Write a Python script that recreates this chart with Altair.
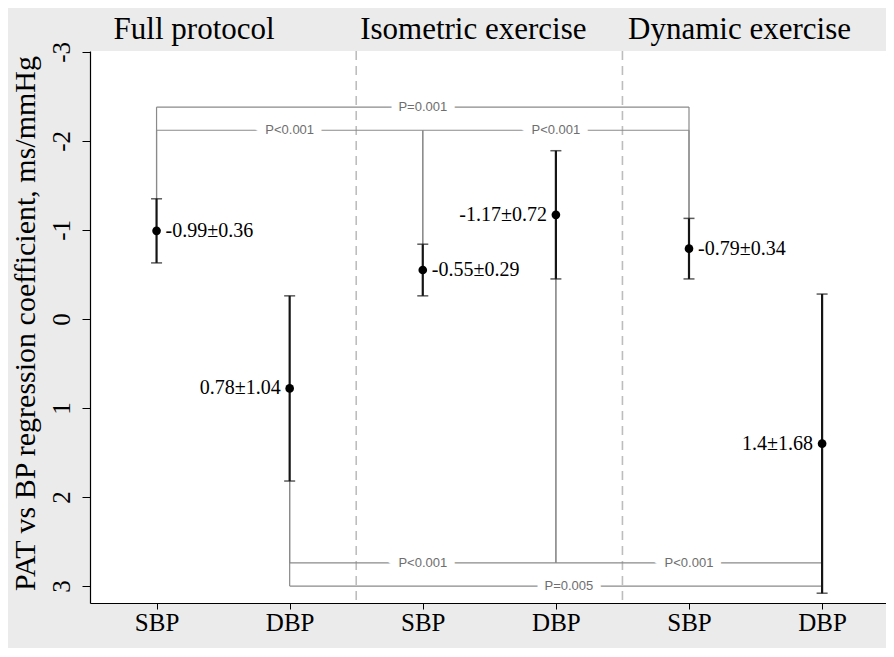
import altair as alt
import pandas as pd

# ---- data ----
groups = ["Full protocol", "Isometric exercise", "Dynamic exercise"]
measures = ["SBP", "DBP", "SBP", "DBP", "SBP", "DBP"]
positions = [1, 2, 3, 4, 5, 6]
coef = [-0.99, 0.78, -0.55, -1.17, -0.79, 1.4]
ci = [0.36, 1.04, 0.29, 0.72, 0.34, 1.68]
label_side = ["right", "left", "right", "left", "right", "left"]

group_pos = [1.5, 3.5, 5.5]
separators = [2.5, 4.5]

br_labels = ["P=0.001", "P<0.001", "P<0.001", "P<0.001", "P<0.001", "P=0.005"]
br_from = [1, 1, 3, 2, 4, 2]
br_to = [5, 3, 5, 4, 6, 6]
br_level = [-2.38, -2.12, -2.12, 2.74, 2.74, 3.0]

y_ticks = [-3, -2, -1, 0, 1, 2, 3]
y_title = "PAT vs BP regression coefficient, ms/mmHg"

SERIF = "Liberation Serif"
SANS = "Liberation Sans"

# ---- tables ----
pts = pd.DataFrame({
    "x": positions,
    "y": coef,
    "lo": [c - h for c, h in zip(coef, ci)],
    "hi": [c + h for c, h in zip(coef, ci)],
    "label": [f"{c:g}\u00b1{h:g}" for c, h in zip(coef, ci)],
    "side": label_side,
})

hz = pd.DataFrame({"x": br_from, "x2": br_to, "y": br_level})
vrows = []
for a, b, lev in zip(br_from, br_to, br_level):
    for p in (a, b):
        i = positions.index(p)
        end = coef[i] - ci[i] if lev < 0 else coef[i] + ci[i]
        vrows.append({"x": p, "y": lev, "y2": end})
vt = pd.DataFrame(vrows)
blab = pd.DataFrame({
    "x": [(a + b) / 2 for a, b in zip(br_from, br_to)],
    "y": br_level,
    "label": br_labels,
    "nudge": [0, 0, 0, 0, 0, 1],
})
seps = pd.DataFrame({"x": separators})
heads = pd.DataFrame({"x": group_pos, "label": groups})

label_expr = "[" + ",".join(["''"] + [f"'{m}'" for m in measures]) + "][datum.value]"

xscale = alt.Scale(domain=[0.5, 6.48], nice=False, zero=False)
yscale = alt.Scale(domain=[-3.01, 3.19], reverse=True, nice=False, zero=False)

xaxis = alt.Axis(values=positions, labelExpr=label_expr, title=None, grid=False,
                 domainColor="black", domainWidth=1.2, tickColor="black", tickSize=6,
                 labelFont=SERIF, labelFontSize=25, labelColor="black", labelPadding=1)
yaxis = alt.Axis(values=y_ticks, labelExpr="'' + datum.value", title=y_title, grid=False,
                 domainColor="black", domainWidth=1.2, tickColor="black", tickSize=8,
                 labelFont=SERIF, labelFontSize=25, labelColor="black", labelAngle=270,
                 labelAlign="center", labelBaseline="bottom", labelPadding=8,
                 titleFont=SERIF, titleFontSize=30, titleFontWeight="normal", titleColor="black",
                 titleAngle=270, titleX=-65, titleY=272, titleAlign="center", titleBaseline="middle")


def X(f):
    return alt.X(f"{f}:Q", scale=xscale, axis=xaxis)


def Y(f):
    return alt.Y(f"{f}:Q", scale=yscale, axis=yaxis)


sep_layer = alt.Chart(seps).mark_rule(color="#bdbdbd", strokeWidth=1.6, strokeDash=[9, 6]).encode(x=X("x"))

hz_layer = alt.Chart(hz).mark_rule(color="#8a8a8a", strokeWidth=1.2).encode(
    x=X("x"), x2="x2:Q", y=Y("y"))
vt_layer = alt.Chart(vt).mark_rule(color="#8a8a8a", strokeWidth=1.2).encode(
    x=X("x"), y=Y("y"), y2="y2:Q")

halo0 = alt.Chart(blab).transform_filter("datum.nudge == 0").mark_text(
    font=SANS, fontSize=13, color="white", stroke="white", strokeWidth=16, baseline="middle"
).encode(x=X("x"), y=Y("y"), text="label:N")
txt0 = alt.Chart(blab).transform_filter("datum.nudge == 0").mark_text(
    font=SANS, fontSize=13, color="#6e6e6e", baseline="middle"
).encode(x=X("x"), y=Y("y"), text="label:N")
halo1 = alt.Chart(blab).transform_filter("datum.nudge == 1").mark_text(
    font=SANS, fontSize=13, color="white", stroke="white", strokeWidth=16, baseline="middle", dx=13
).encode(x=X("x"), y=Y("y"), text="label:N")
txt1 = alt.Chart(blab).transform_filter("datum.nudge == 1").mark_text(
    font=SANS, fontSize=13, color="#6e6e6e", baseline="middle", dx=13
).encode(x=X("x"), y=Y("y"), text="label:N")

err = alt.Chart(pts).mark_rule(color="#151515", strokeWidth=2.2).encode(
    x=X("x"), y=Y("lo"), y2="hi:Q")
cap_lo = alt.Chart(pts).mark_tick(color="#151515", orient="horizontal", size=11, thickness=1.5).encode(
    x=X("x"), y=Y("lo"))
cap_hi = alt.Chart(pts).mark_tick(color="#151515", orient="horizontal", size=11, thickness=1.5).encode(
    x=X("x"), y=Y("hi"))
dots = alt.Chart(pts).mark_circle(color="black", size=75, opacity=1).encode(x=X("x"), y=Y("y"))

lab_r = alt.Chart(pts).transform_filter("datum.side == 'right'").mark_text(
    font=SERIF, fontSize=20, color="black", align="left", baseline="middle", dx=9
).encode(x=X("x"), y=Y("y"), text="label:N")
lab_l = alt.Chart(pts).transform_filter("datum.side == 'left'").mark_text(
    font=SERIF, fontSize=20, color="black", align="right", baseline="middle", dx=-9
).encode(x=X("x"), y=Y("y"), text="label:N")

head_shift = [-29, -16, -16]
head_layers = []
for i, g in enumerate(groups):
    head_layers.append(
        alt.Chart(heads).transform_filter(f"datum.label == '{g}'").mark_text(
            font=SERIF, fontSize=31, color="black", align="center", baseline="middle", dx=head_shift[i]
        ).encode(x=X("x"), y=alt.value(-21), text="label:N")
    )

chart = alt.layer(
    sep_layer, hz_layer, vt_layer, halo0, halo1, txt0, txt1,
    err, cap_lo, cap_hi, dots, lab_r, lab_l, *head_layers
).properties(
    width=796, height=552,
    background="#ebebeb",
    autosize=alt.AutoSizeParams(type="none"),
    padding={"left": 82, "top": 43, "right": 0, "bottom": 45},
).configure_view(fill="white", stroke=None)

chart.save("out.html", embed_options={"renderer": "svg", "actions": False})
